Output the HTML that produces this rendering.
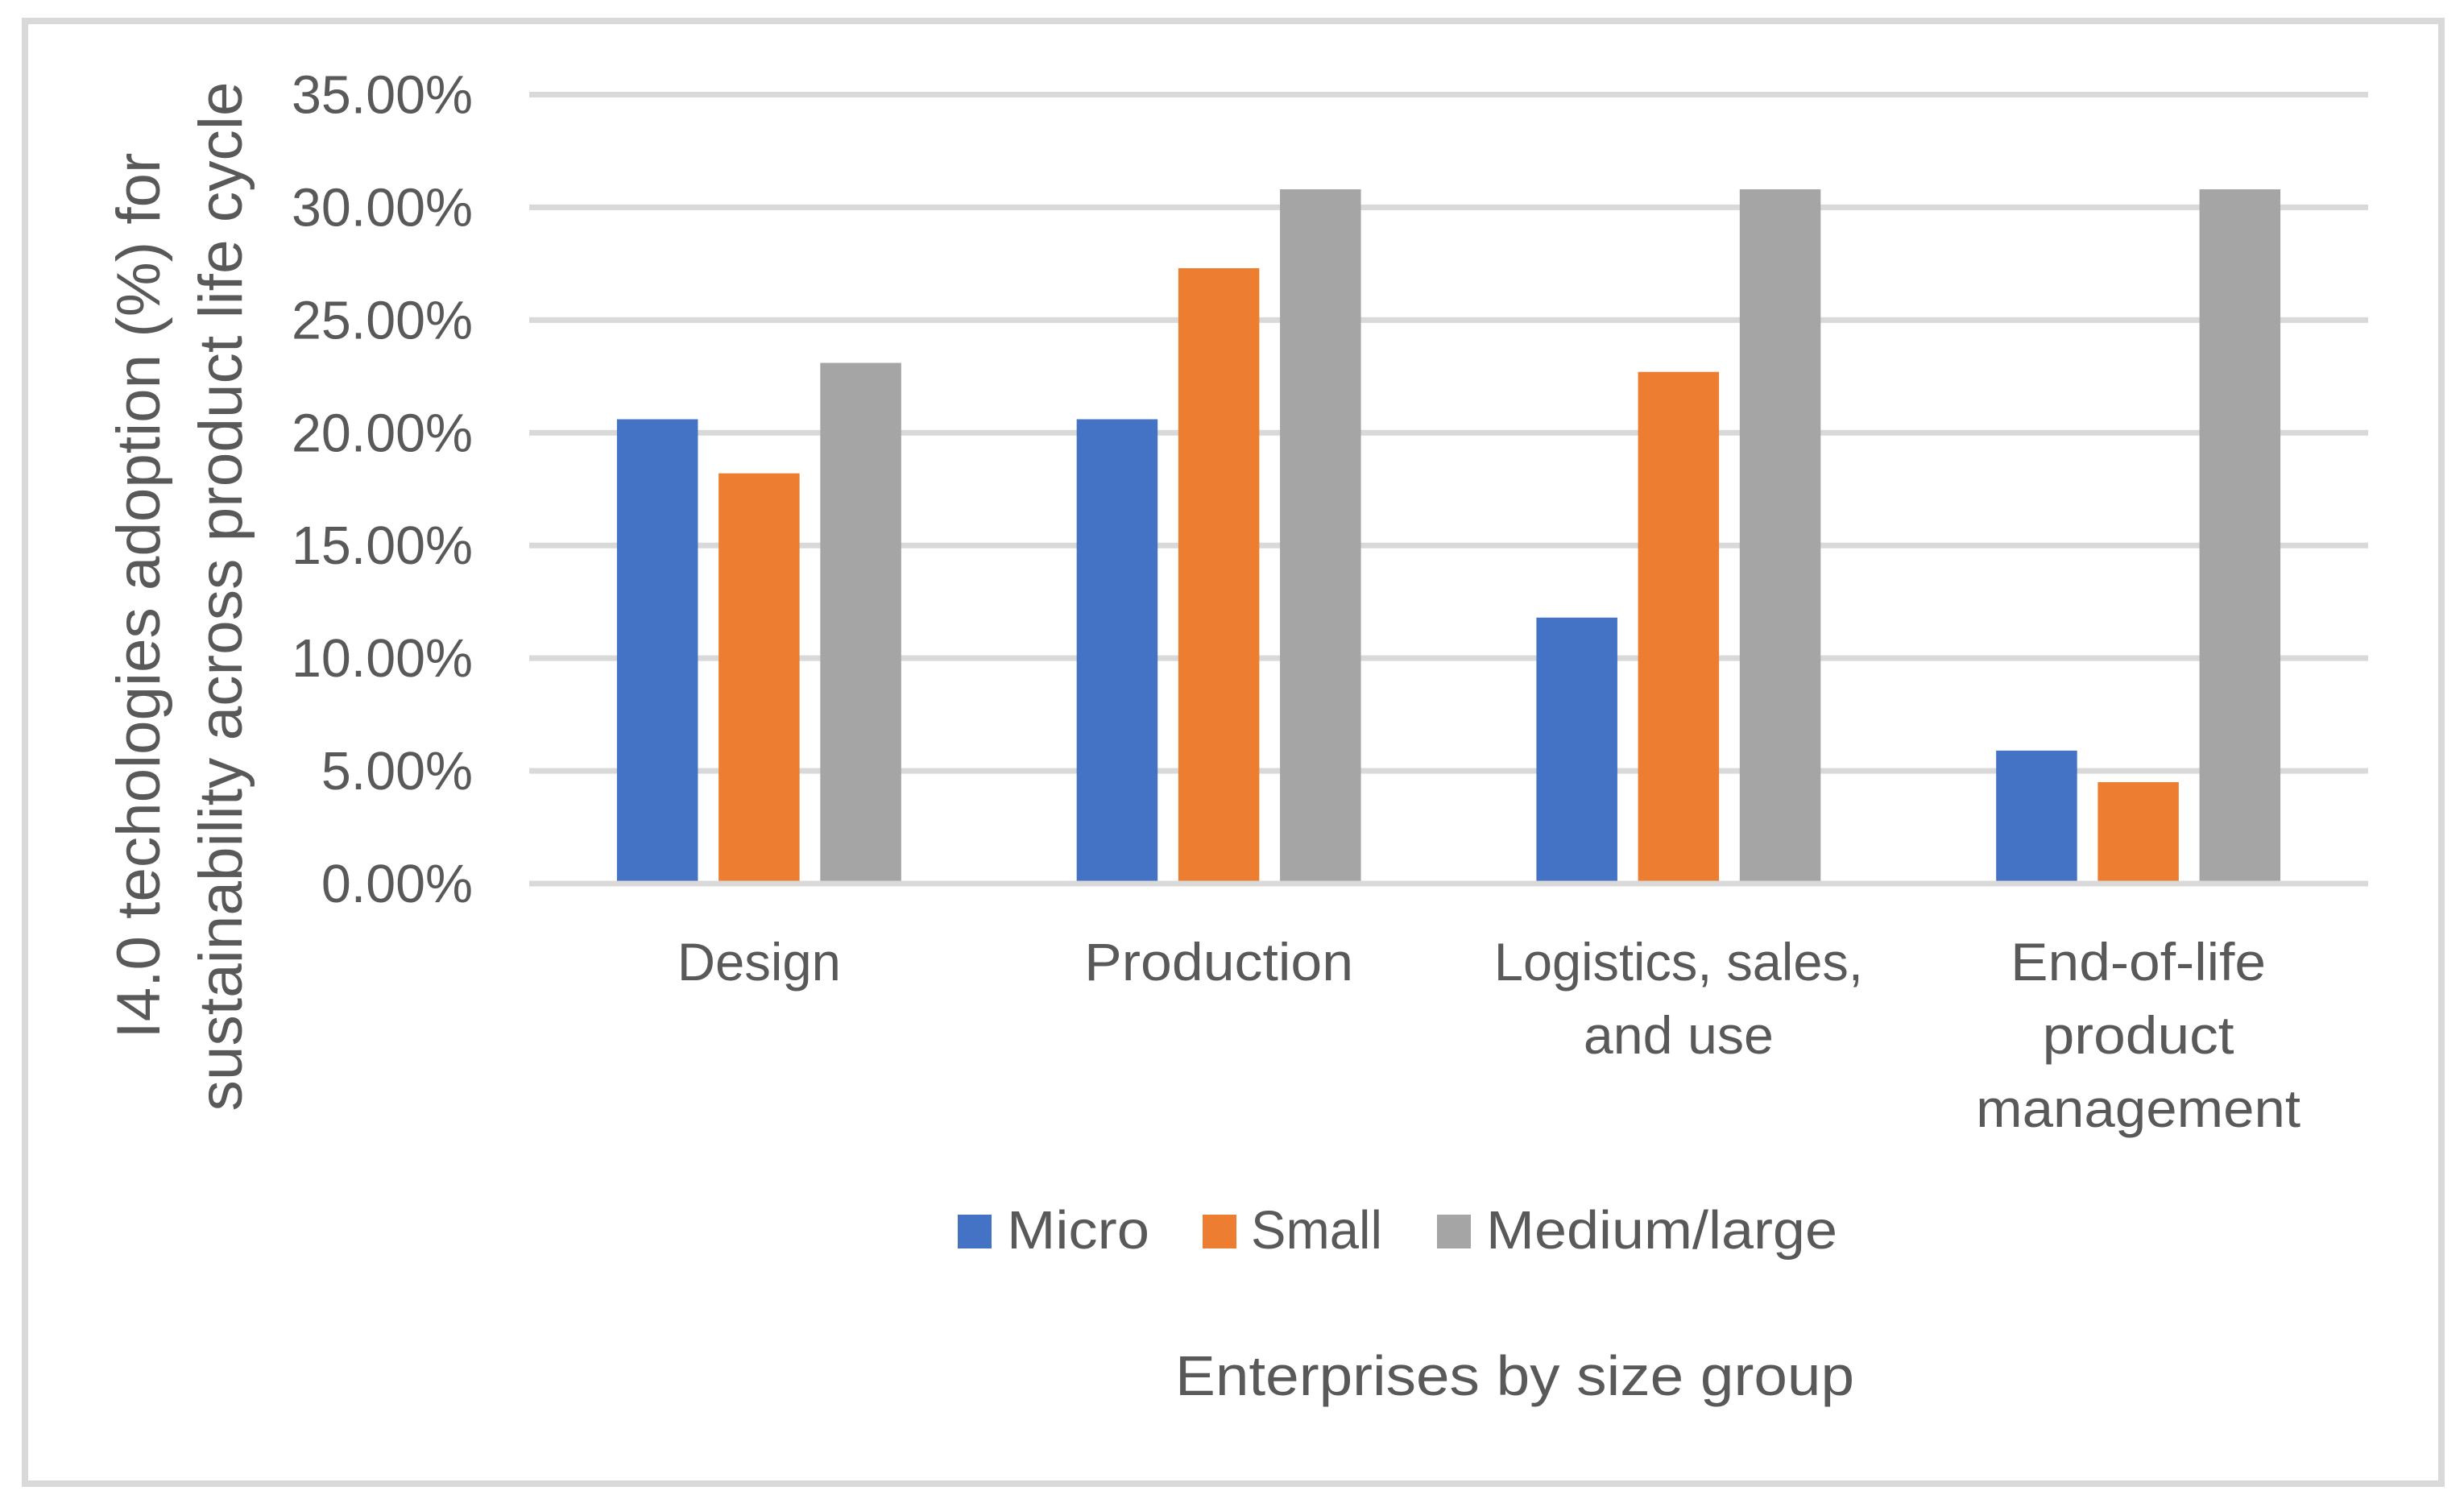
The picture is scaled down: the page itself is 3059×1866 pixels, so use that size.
<!DOCTYPE html>
<html lang="en">
<head>
<meta charset="utf-8">
<title>I4.0 technologies adoption by enterprise size</title>
<style>
  html, body { margin: 0; padding: 0; background: #fff; }
  body { width: 3059px; height: 1866px; overflow: hidden; }
  svg { display: block; }
  text { font-family: "Liberation Sans", sans-serif; fill: #595959; }
</style>
</head>
<body>
<svg id="chart" xmlns="http://www.w3.org/2000/svg" width="3059" height="1866" viewBox="0 0 3059 1866">
  <rect x="0" y="0" width="3059" height="1866" fill="#ffffff"/>
  <rect x="31" y="26" width="3000" height="1816" fill="none" stroke="#d9d9d9" stroke-width="8"/>
  <g id="grid"></g>
  <g id="bars"></g>
  <g id="axis"></g>
  <g id="yticks"></g>
  <g id="xlabels"></g>

  <g>
    <text transform="translate(198 739.5) rotate(-90)" text-anchor="middle" font-size="76" textLength="1100" lengthAdjust="spacingAndGlyphs">I4.0 techologies adoption (%) for</text>
    <text transform="translate(300 740.5) rotate(-90)" text-anchor="middle" font-size="76" textLength="1278" lengthAdjust="spacingAndGlyphs">sustainability across product life cycle</text>
  </g>

  <g>
    <g>
      <rect x="1189" y="1508" width="42" height="42" fill="#4472c4"/>
      <text x="1250" y="1550" font-size="67" textLength="177" lengthAdjust="spacingAndGlyphs">Micro</text>
    </g>
    <g>
      <rect x="1493" y="1508" width="42" height="42" fill="#ed7d31"/>
      <text x="1553" y="1550" font-size="67" textLength="163" lengthAdjust="spacingAndGlyphs">Small</text>
    </g>
    <g>
      <rect x="1784" y="1508" width="42" height="42" fill="#a5a5a5"/>
      <text x="1845" y="1550" font-size="67" textLength="436" lengthAdjust="spacingAndGlyphs">Medium/large</text>
    </g>
  </g>

  <text x="1459" y="1732" font-size="70" textLength="843" lengthAdjust="spacingAndGlyphs">Enterprises by size group</text>
</svg>

<script>
const categories = ["Design", "Production", "Logistics, sales, and use", "End-of-life product management"];
const categoryLines = [["Design"], ["Production"], ["Logistics, sales,", "and use"], ["End-of-life", "product", "management"]];
const microValues = [20.6, 20.6, 11.8, 5.9];
const smallValues = [18.2, 27.3, 22.7, 4.5];
const mediumLargeValues = [23.1, 30.8, 30.8, 30.8];
const tickValues = [0, 5, 10, 15, 20, 25, 30, 35];
const tickLabels = ["0.00%", "5.00%", "10.00%", "15.00%", "20.00%", "25.00%", "30.00%", "35.00%"];

const NS = "http://www.w3.org/2000/svg";
const plotLeft = 657, plotRight = 2940, plotBottom = 1097, plotTop = 117.5;
const axisMax = 35;
const barWidth = 100.5, barStep = 126.2;
const labelWidthFor = {
  "Design": 203, "Production": 334, "Logistics, sales,": 458, "and use": 236,
  "End-of-life": 317, "product": 238, "management": 403
};

function yScale(v) { return plotBottom - (v / axisMax) * (plotBottom - plotTop); }
function categoryCenter(i) { return plotLeft + (i + 0.5) * (plotRight - plotLeft) / categories.length; }
function make(tag, attrs, parent) {
  const el = document.createElementNS(NS, tag);
  for (const k in attrs) el.setAttribute(k, attrs[k]);
  parent.appendChild(el);
  return el;
}

const grid = document.getElementById("grid");
const yticks = document.getElementById("yticks");
tickValues.forEach(function (t, i) {
  const y = yScale(t);
  const line = make("rect", { x: plotLeft, y: y - 3.5, width: plotRight - plotLeft, height: 7, fill: "#d9d9d9" }, grid);
  
  
  const label = make("text", { x: 587, y: y + 23, "text-anchor": "end", "font-size": 67 }, yticks);
  label.textContent = tickLabels[i];
  
  
  label.setAttribute("textLength", (label.getComputedTextLength() * 0.99).toFixed(1));
  label.setAttribute("lengthAdjust", "spacingAndGlyphs");
});

const barsGroup = document.getElementById("bars");
function drawSeries(values, offset, color) {
  values.forEach(function (v, i) {
    const x = categoryCenter(i) + offset * barStep - barWidth / 2;
    const bar = make("rect", { x: x, y: yScale(v), width: barWidth, height: plotBottom - yScale(v), fill: color }, barsGroup);
    
    
  });
}
drawSeries(microValues, -1, "#4472c4");
drawSeries(smallValues, 0, "#ed7d31");
drawSeries(mediumLargeValues, 1, "#a5a5a5");

const axisGroup = document.getElementById("axis");
const baseline = make("rect", { x: plotLeft, y: yScale(0) - 3.5, width: plotRight - plotLeft, height: 7, fill: "#d9d9d9" }, axisGroup);



const xlabels = document.getElementById("xlabels");
categoryLines.forEach(function (lines, i) {
  lines.forEach(function (line, j) {
    const t = make("text", {
      x: categoryCenter(i), y: 1217 + j * 91, "text-anchor": "middle", "font-size": 66,
      textLength: labelWidthFor[line], lengthAdjust: "spacingAndGlyphs"
    }, xlabels);
    t.textContent = line;
    
    
  });
});
</script>
</body>
</html>
